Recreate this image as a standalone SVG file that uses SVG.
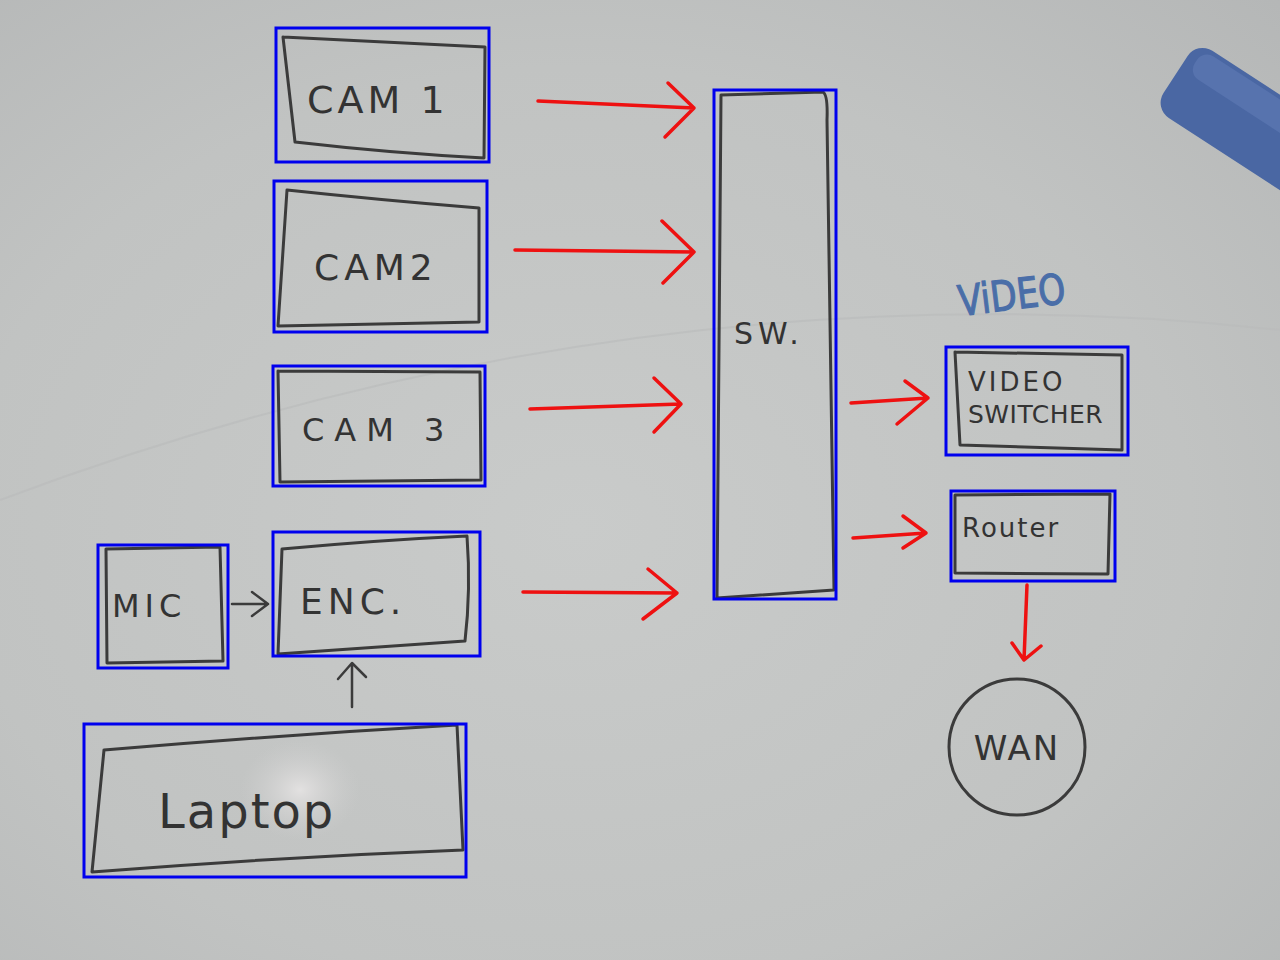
<svg xmlns="http://www.w3.org/2000/svg" width="1280" height="960" viewBox="0 0 1280 960">
<defs>
<radialGradient id="bg" cx="0.45" cy="0.55" r="0.8">
<stop offset="0" stop-color="#c9cbca"/>
<stop offset="0.6" stop-color="#c1c3c2"/>
<stop offset="1" stop-color="#b4b6b6"/>
</radialGradient>
<radialGradient id="glare" cx="0.5" cy="0.5" r="0.5">
<stop offset="0" stop-color="#e6e4e4" stop-opacity="0.9"/>
<stop offset="1" stop-color="#d0d0d0" stop-opacity="0"/>
</radialGradient>
<style>
.hand{fill:none;stroke:#3b3b3b;stroke-width:3;stroke-linecap:round;stroke-linejoin:round}
.bbox{fill:none;stroke:#0000ee;stroke-width:3}
.lbl{font-family:"DejaVu Sans","Liberation Sans",sans-serif;fill:#333;font-weight:normal}
.red{fill:none;stroke:#ee1111;stroke-width:3.5;stroke-linecap:round;stroke-linejoin:round}
.blk{fill:none;stroke:#3b3b3b;stroke-width:2.5;stroke-linecap:round;stroke-linejoin:round}
</style>
</defs>
<rect width="1280" height="960" fill="url(#bg)"/>
<ellipse cx="300" cy="790" rx="60" ry="50" fill="url(#glare)"/>
<path d="M0 500 Q640 260 1280 330" fill="none" stroke="#b9bbbb" stroke-width="2" opacity="0.6"/>
<g id="eraser" transform="rotate(33 1230 110)">
<rect x="1165" y="70" width="170" height="80" rx="18" fill="#4a67a3"/>
<rect x="1175" y="74" width="150" height="28" rx="12" fill="#5773ae"/>
</g>
<g id="cam1">
<path class="hand" d="M283 37 Q380 42 485 47 L484 158 Q390 153 295 142 L283 37"/>
<text class="lbl" x="307" y="113" font-size="38" letter-spacing="4">CAM 1</text>
<rect class="bbox" x="276" y="28" width="213" height="134"/>
</g>
<g id="cam2">
<path class="hand" d="M287 190 Q380 200 479 208 L479 322 L278 326 L287 190"/>
<text class="lbl" x="314" y="280" font-size="36" letter-spacing="5">CAM2</text>
<rect class="bbox" x="274" y="181" width="213" height="151"/>
</g>
<g id="cam3">
<path class="hand" d="M278 371 L480 372 L481 480 L280 482 L278 371"/>
<text class="lbl" x="302" y="441" font-size="32" letter-spacing="10">CAM 3</text>
<rect class="bbox" x="273" y="366" width="212" height="120"/>
</g>
<g id="mic">
<path class="hand" d="M106 549 L220 547 L223 661 L107 663 L106 549"/>
<text class="lbl" x="112" y="617" font-size="32" letter-spacing="5">MIC</text>
<rect class="bbox" x="98" y="545" width="130" height="123"/>
</g>
<g id="enc">
<path class="hand" d="M282 549 Q380 540 467 536 Q471 590 465 641 L278 654 L282 549"/>
<text class="lbl" x="300" y="614" font-size="36" letter-spacing="5">ENC.</text>
<rect class="bbox" x="273" y="532" width="207" height="124"/>
</g>
<g id="laptop">
<path class="hand" d="M104 750 Q280 735 457 725 L463 850 Q280 857 92 872 L104 750"/>
<text class="lbl" x="158" y="828" font-size="48" letter-spacing="2">Laptop</text>
<rect class="bbox" x="84" y="724" width="382" height="153"/>
</g>
<g id="switch">
<path class="hand" d="M721 95 L823 92 Q828 95 827 120 L834 590 L717 598 L721 95"/>
<text class="lbl" x="734" y="344" font-size="30" letter-spacing="5">SW.</text>
<rect class="bbox" x="714" y="90" width="122" height="509"/>
</g>
<g id="video-label">
<text x="0" y="0" font-family="DejaVu Sans, Liberation Sans, sans-serif" font-size="42" fill="#4a6ea8" stroke="#4a6ea8" stroke-width="1.2" transform="translate(960 316) rotate(-7) scale(0.82 1)">ViDEO</text>
</g>
<g id="video-switcher">
<path class="hand" d="M955 352 L1122 355 L1122 450 L960 445 L955 352"/>
<text class="lbl" x="968" y="391" font-size="26" letter-spacing="3">VIDEO</text>
<text class="lbl" x="968" y="423" font-size="25" letter-spacing="0.5">SWITCHER</text>
<rect class="bbox" x="946" y="347" width="182" height="108"/>
</g>
<g id="router">
<path class="hand" d="M955 495 L1110 494 L1108 574 L955 573 L955 495"/>
<text class="lbl" x="962" y="537" font-size="26" letter-spacing="2">Router</text>
<rect class="bbox" x="951" y="491" width="164" height="90"/>
</g>
<g id="wan">
<circle class="hand" cx="1017" cy="747" r="68"/>
<text class="lbl" x="1017" y="760" font-size="34" text-anchor="middle" letter-spacing="2">WAN</text>
</g>
<g id="connectors">
<path class="red" d="M538 101 L694 108 M668 83 L694 108 L665 137"/>
<path class="red" d="M515 250 L694 252 M662 221 L694 252 L663 283"/>
<path class="red" d="M530 409 L681 404 M654 378 L681 404 L654 432"/>
<path class="red" d="M523 592 L677 593 M648 569 L677 593 L643 619"/>
<path class="red" d="M851 403 L928 398 M905 381 L928 398 L897 424"/>
<path class="red" d="M853 538 L926 533 M903 516 L926 533 L903 548"/>
<path class="red" d="M1027 585 L1024 660 M1012 643 L1024 660 L1041 646"/>
<path class="blk" d="M232 604 L268 604 M252 592 L268 604 L252 616"/>
<path class="blk" d="M352 707 L352 665 M338 679 L352 663 L366 677"/>
</g>
</svg>
